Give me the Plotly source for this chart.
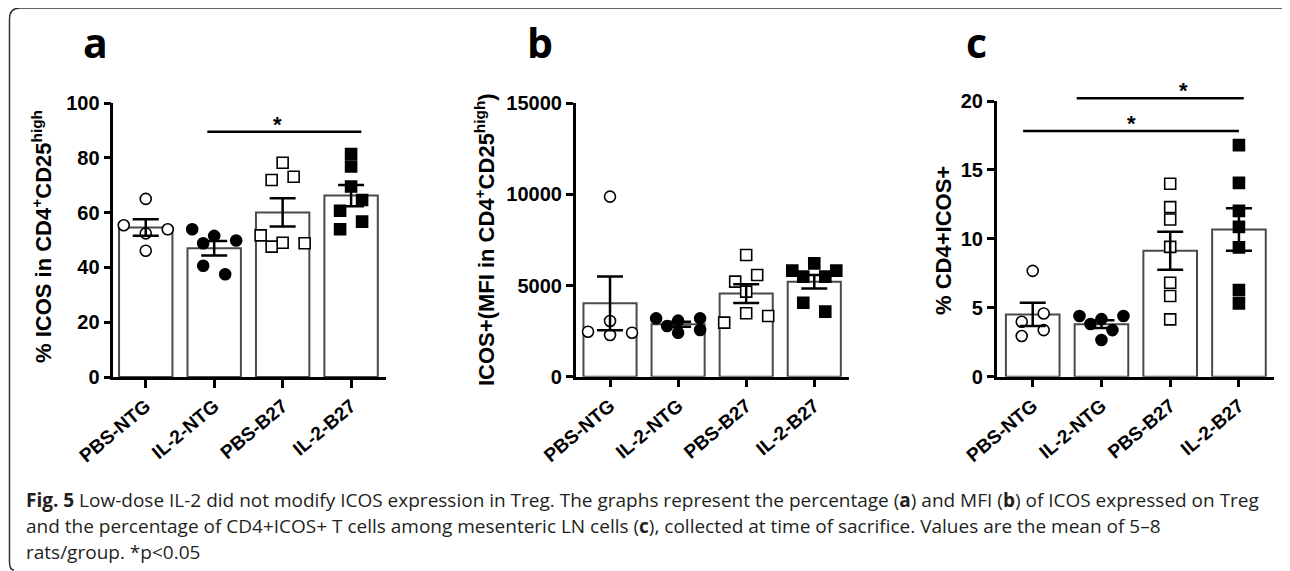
import numpy as np
import plotly.graph_objects as go

W, H = 1290, 571
OFF = 8  # page body margin of the browser: shift everything up/left by this

groups = ["PBS-NTG", "IL-2-NTG", "PBS-B27", "IL-2-B27"]

# ---- data ----
# panel a: % ICOS in CD4+CD25high
a_pbs_ntg = [65.0, 55.4, 52.4, 53.9, 46.1]
a_il2_ntg = [53.9, 51.5, 49.8, 48.8, 40.6, 37.5]
a_pbs_b27 = [78.2, 71.9, 73.1, 51.7, 49.0, 48.8, 47.6]
a_il2_b27 = [81.4, 76.8, 69.5, 60.7, 64.6, 53.9, 56.7]
# panel b: ICOS+ (MFI in CD4+CD25high)
b_pbs_ntg = [9880, 2290, 2470, 3060, 2415]
b_il2_ntg = [3200, 3075, 3200, 2783, 2415, 2563]
b_pbs_b27 = [6680, 5215, 5580, 4665, 2965, 3480, 3330]
b_il2_b27 = [5820, 6220, 5820, 5490, 5490, 4060, 3570]
# panel c: % CD4+ICOS+
c_pbs_ntg = [7.68, 3.99, 4.59, 2.95, 3.38]
c_il2_ntg = [4.40, 4.18, 4.40, 3.82, 3.38, 2.66]
c_pbs_b27 = [14.0, 12.3, 11.4, 9.42, 6.81, 5.85, 4.16]
c_il2_b27 = [16.8, 14.06, 12.03, 10.87, 9.38, 6.28, 5.32]

# significance bars: (from group pos, to group pos, height, star position)
sig_a = [(0.9, 3.15, 89.5, 1.93)]
sig_b = []
sig_c = [(0.64, 3.07, 20.2, 2.19), (-0.14, 3.0, 17.83, 1.44)]

y_ticks_a = [0, 20, 40, 60, 80, 100]
y_ticks_b = [0, 5000, 10000, 15000]
y_ticks_c = [0, 5, 10, 15, 20]

# ---- styling / layout ----
FONT = "Liberation Sans"
styles = [
    dict(symbol="circle", color="white", line=dict(color="black", width=1.6)),
    dict(symbol="circle", color="black", line=dict(color="black", width=1.6)),
    dict(symbol="square", color="white", line=dict(color="black", width=1.6)),
    dict(symbol="square", color="black", line=dict(color="black", width=1.6)),
]

panels = [
    dict(sets=[a_pbs_ntg, a_il2_ntg, a_pbs_b27, a_il2_b27], sig=sig_a, ticks=y_ticks_a,
         px=(113.3, 386.0), py=(377.0, 103.0), xr=(-0.474, 3.51),
         title="% ICOS in CD4<sup>+</sup>CD25<sup>high</sup>", tpos=(42, 237),
         letter="a", lpos=(95, 42)),
    dict(sets=[b_pbs_ntg, b_il2_ntg, b_pbs_b27, b_il2_b27], sig=sig_b, ticks=y_ticks_b,
         px=(575.7, 849.0), py=(376.7, 103.3), xr=(-0.504, 3.51),
         title="ICOS+(MFI in CD4<sup>+</sup>CD25<sup>high</sup>)", tpos=(485, 240),
         letter="b", lpos=(540, 42)),
    dict(sets=[c_pbs_ntg, c_il2_ntg, c_pbs_b27, c_il2_b27], sig=sig_c, ticks=y_ticks_c,
         px=(996.7, 1274.0), py=(376.7, 101.0), xr=(-0.524, 3.51),
         title="% CD4+ICOS+", tpos=(943, 240),
         letter="c", lpos=(976, 42)),
]


def PX(x):
    return (x - OFF) / W


def PY(y):
    return 1 - (y - OFF) / H


def swarm(vals, ppu_y, ppu_x, step_px=22.0, row_px=12.0, min_px=10.0, max_row=3):
    """Prism-like scatter layout: rows of nearby values centred on the group."""
    vals = np.asarray(vals, float)
    order = np.argsort(-vals, kind="stable")
    rows, cur = [], []
    for i in order:
        if cur and (vals[cur[0]] - vals[i]) * ppu_y < row_px and len(cur) < max_row:
            cur.append(i)
        else:
            if cur:
                rows.append(cur)
            cur = [i]
    rows.append(cur)
    off = np.zeros(len(vals))
    placed = []
    h = step_px / 2
    for r in rows:
        r = sorted(r)
        n = len(r)
        for k, i in enumerate(r):
            base = (k - (n - 1) / 2) * step_px
            cands = [base, -h, h, -step_px, step_px, -3 * h, 3 * h, -2 * step_px, 2 * step_px]
            for c in cands:
                ok = all(np.hypot(c - pc, (vals[i] - vals[j]) * ppu_y) >= min_px for j, pc in placed)
                if ok:
                    off[i] = c
                    placed.append((i, c))
                    break
    return off / ppu_x


fig = go.Figure()
layout = dict(width=W, height=H, template="none",
              margin=dict(l=0, r=0, t=0, b=0, pad=0, autoexpand=False),
              paper_bgcolor="white", plot_bgcolor="white", showlegend=False,
              font=dict(family=FONT, color="black"))
shapes, annotations = [], []

for pi, p in enumerate(panels):
    sfx = "" if pi == 0 else str(pi + 1)
    xa, ya = "x" + sfx, "y" + sfx
    x0, x1 = p["px"]
    yb, yt = p["py"]
    yr = (p["ticks"][0], p["ticks"][-1])
    xr = p["xr"]
    ppu_x = (x1 - x0) / (xr[1] - xr[0])
    ppu_y = (yb - yt) / (yr[1] - yr[0])

    means = [float(np.mean(s)) for s in p["sets"]]
    sems = [float(np.std(s, ddof=1) / np.sqrt(len(s))) for s in p["sets"]]
    pos = list(range(len(groups)))

    fig.add_trace(go.Bar(x=pos, y=means, width=0.78, xaxis=xa, yaxis=ya,
                         marker=dict(color="white", line=dict(color="#4a4a4a", width=2)),
                         hoverinfo="skip"))
    for gi, s in enumerate(p["sets"]):
        offs = swarm(s, ppu_y, ppu_x)
        fig.add_trace(go.Scatter(x=gi + offs, y=s, mode="markers", xaxis=xa, yaxis=ya,
                                 cliponaxis=False,
                                 marker=dict(size=11, **styles[gi])))
    fig.add_trace(go.Scatter(x=pos, y=means, mode="markers", xaxis=xa, yaxis=ya,
                             marker=dict(size=1, color="rgba(0,0,0,0)"),
                             error_y=dict(type="data", array=sems, visible=True,
                                          color="black", thickness=2.5, width=13)))

    common = dict(showline=True, linewidth=2.5, linecolor="black", automargin=False,
                  ticks="outside", tickwidth=2.5, tickcolor="black",
                  showgrid=False, zeroline=False)
    layout["xaxis" + sfx] = dict(domain=[PX(x0), PX(x1)], range=list(xr), anchor=ya,
                                 tickvals=pos, ticktext=groups, tickangle=-40, ticklen=8,
                                 tickfont=dict(family=FONT, size=19, weight=700, color="black"),
                                 **common)
    layout["yaxis" + sfx] = dict(domain=[PY(yb), PY(yt)], range=list(yr), anchor=xa,
                                 tickvals=p["ticks"], tickformat="d", ticklen=7,
                                 tickfont=dict(family=FONT, size=20, weight=700, color="black"),
                                 **common)

    def fx(v):
        return (v - xr[0]) / (xr[1] - xr[0])

    def fy(v):
        return (v - yr[0]) / (yr[1] - yr[0])

    for (s0, s1, lv, sx) in p["sig"]:
        shapes.append(dict(type="line", xref=xa + " domain", yref=ya + " domain",
                           x0=fx(s0), x1=fx(s1), y0=fy(lv), y1=fy(lv),
                           line=dict(color="black", width=2.5)))
        annotations.append(dict(text="<b>*</b>", xref=xa + " domain", yref=ya + " domain",
                                x=fx(sx), y=fy(lv), xanchor="center", yanchor="bottom",
                                yshift=-7, showarrow=False,
                                font=dict(family=FONT, size=22, color="black")))

    annotations.append(dict(text="<b>" + p["title"] + "</b>", xref="paper", yref="paper",
                            x=PX(p["tpos"][0]), y=PY(p["tpos"][1]), textangle=-90,
                            xanchor="center", yanchor="middle", showarrow=False,
                            font=dict(family=FONT, size=22, color="black")))
    annotations.append(dict(text="<b>" + p["letter"] + "</b>", xref="paper", yref="paper",
                            x=PX(p["lpos"][0]), y=PY(p["lpos"][1]),
                            xanchor="center", yanchor="middle", showarrow=False,
                            font=dict(family="Open Sans", size=41, color="black")))

# caption
caption = [
    "<b>Fig. 5</b> Low-dose IL-2 did not modify ICOS expression in Treg. The graphs represent the "
    "percentage (<b>a</b>) and MFI (<b>b</b>) of ICOS expressed on Treg",
    "and the percentage of CD4+ICOS+ T cells among mesenteric LN cells (<b>c</b>), collected at "
    "time of sacrifice. Values are the mean of 5–8",
    "rats/group. *p&lt;0.05",
]
for li, line in enumerate(caption):
    annotations.append(dict(text=line, xref="paper", yref="paper", x=PX(24),
                            y=PY(500 + 26 * li), xanchor="left", yanchor="middle",
                            showarrow=False,
                            font=dict(family="Open Sans", size=19, color="#231f20")))


# frame around the figure (rounded top-left / bottom-left corners)
def P(x, y):
    return f"{PX(x):.5f},{PY(y):.5f}"


frame = ("M " + P(1288, 13) + " Q " + P(1288, 8) + " " + P(1282, 8) +
         " L " + P(20, 8) + " Q " + P(9.5, 8) + " " + P(9.5, 19) +
         " L " + P(9.5, 562) + " Q " + P(9.5, 570) + " " + P(14, 570))
shapes.append(dict(type="path", xref="paper", yref="paper", path=frame,
                   line=dict(color="#333333", width=1.5)))

layout["shapes"] = shapes
layout["annotations"] = annotations
fig.update_layout(**layout)
fig.write_html("out.html")
